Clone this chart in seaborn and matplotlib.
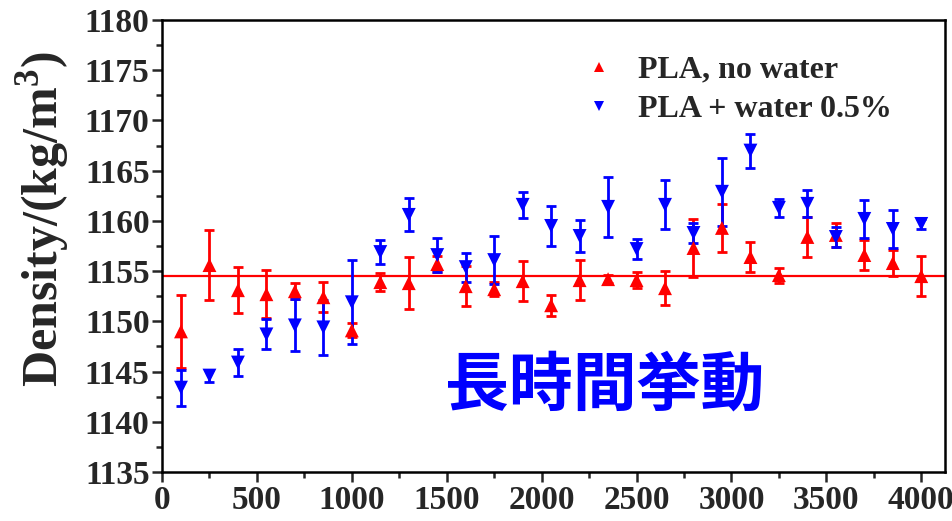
import numpy as np
import pandas as pd
import matplotlib
matplotlib.use("Agg")
import matplotlib.pyplot as plt
import seaborn as sns
from matplotlib.ticker import MultipleLocator

# Measurement times and densities (kg/m^3) with their standard deviations
time_points = [100, 250, 400, 550, 700, 850, 1000, 1150, 1300, 1450, 1600, 1750, 1900,
               2050, 2200, 2350, 2500, 2650, 2800, 2950, 3100, 3250, 3400, 3550, 3700,
               3850, 4000]

dry_density = [1149.0, 1155.6, 1153.1, 1152.7, 1153.0, 1152.4, 1149.1, 1153.9, 1153.8,
               1155.7, 1153.5, 1153.2, 1154.0, 1151.6, 1154.1, 1154.2, 1154.1, 1153.3,
               1157.3, 1159.3, 1156.4, 1154.6, 1158.4, 1158.6, 1156.6, 1155.8, 1154.5]
dry_err = [3.6, 3.5, 2.3, 2.4, 0.8, 1.5, 0.7, 0.9, 2.6, 0.8, 2.0, 0.7, 2.0, 1.05,
           2.0, 0.4, 0.8, 1.7, 2.9, 2.35, 1.5, 0.75, 2.0, 1.2, 1.45, 1.3, 2.0]

wet_density = [1143.4, 1144.6, 1145.9, 1148.7, 1149.6, 1149.4, 1151.9, 1156.9, 1160.6,
               1156.6, 1155.4, 1156.1, 1161.6, 1159.5, 1158.5, 1161.4, 1157.2, 1161.6,
               1158.8, 1162.9, 1167.0, 1161.3, 1161.7, 1158.4, 1160.2, 1159.2, 1159.7]
wet_err = [1.8, 0.6, 1.3, 1.5, 2.6, 2.7, 4.2, 1.2, 1.65, 1.7, 1.45, 2.4, 1.3, 2.0,
           1.6, 3.0, 1.0, 2.45, 1.0, 3.4, 1.7, 0.9, 1.35, 1.0, 1.9, 1.85, 0.5]

series_names = ["PLA, no water", "PLA + water 0.5%"]
reference_density = 1154.5
annotation = "長時間挙動"

df = pd.concat([
    pd.DataFrame({"time": time_points, "density": dry_density, "err": dry_err,
                  "series": series_names[0]}),
    pd.DataFrame({"time": time_points, "density": wet_density, "err": wet_err,
                  "series": series_names[1]}),
], ignore_index=True)

colors = {series_names[0]: "#ff0000", series_names[1]: "#0000ff"}
markers = {series_names[0]: "^", series_names[1]: "v"}

sns.set_theme(style="ticks")
plt.rcParams["font.family"] = ["Liberation Serif", "DejaVu Serif"]
plt.rcParams["font.weight"] = "bold"
plt.rcParams["mathtext.fontset"] = "custom"
plt.rcParams["mathtext.rm"] = "Liberation Serif:bold"
plt.rcParams["mathtext.bf"] = "Liberation Serif:bold"

fig = plt.figure(figsize=(9.53, 5.21), dpi=100)
ax = fig.add_axes([0.170, 0.094, 0.8216, 0.8676])

ax.axhline(reference_density, color="#ff0000", lw=1.6, zorder=1)

for name in series_names:
    sub = df[df["series"] == name]
    ax.errorbar(sub["time"], sub["density"], yerr=sub["err"], fmt="none",
                ecolor=colors[name], elinewidth=2.0, capsize=3.5, capthick=2.0,
                zorder=2 if name == series_names[0] else 4)

sns.scatterplot(data=df, x="time", y="density", hue="series", style="series",
                palette=colors, markers=markers, s=100, linewidth=0,
                ax=ax, zorder=5, legend=True)

ax.set_xlim(0, 4125)
ax.set_ylim(1135, 1180)
ax.xaxis.set_major_locator(MultipleLocator(500))
ax.xaxis.set_minor_locator(MultipleLocator(250))
ax.yaxis.set_major_locator(MultipleLocator(5))
ax.yaxis.set_minor_locator(MultipleLocator(2.5))

ax.set_xlabel("")
ax.set_ylabel("Density/(kg/m$^{\\mathrm{3}}$)", fontsize=36, fontweight="bold")
ax.yaxis.set_label_coords(-0.115, 0.56)
ax.tick_params(axis="both", which="major", direction="out", length=7, width=1.8,
               labelsize=24, pad=2)
ax.tick_params(axis="both", which="minor", direction="out", length=4, width=1.8)
ax.tick_params(top=False, right=False, which="both")
for lab in ax.get_xticklabels() + ax.get_yticklabels():
    lab.set_fontweight("bold")
for sp in ax.spines.values():
    sp.set_linewidth(1.8)
    sp.set_color("black")

handles, labels = ax.get_legend_handles_labels()
leg = ax.legend(handles, labels, loc="upper left", bbox_to_anchor=(0.481, 0.985),
                frameon=False, markerscale=0.7, handletextpad=0.2,
                labelspacing=0.3, prop={"family": "Liberation Serif",
                                         "weight": "bold", "size": 23})

ax.text(0.565, 0.19, annotation, transform=ax.transAxes, ha="center", va="center",
        color="#0000ff", fontsize=46, fontweight="bold",
        family=["Noto Sans CJK JP", "DejaVu Sans"])

fig.savefig("out.png", dpi=100)
